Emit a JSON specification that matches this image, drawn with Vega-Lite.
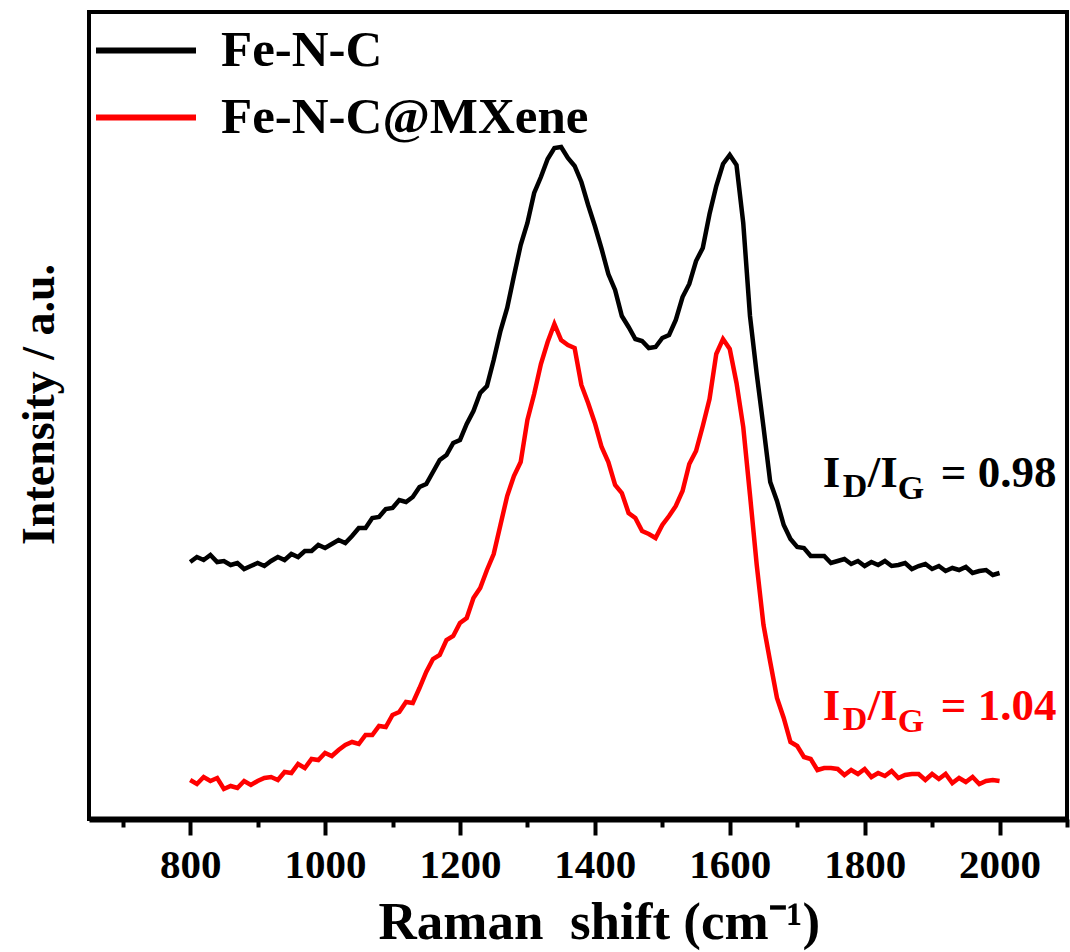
{
  "$schema": "https://vega.github.io/schema/vega-lite/v6.json",
  "width": 978,
  "height": 807,
  "autosize": {"type": "none"},
  "padding": {"left": 89, "top": 12, "right": 3, "bottom": 133},
  "background": "white",
  "config": {"font": "Liberation Serif", "view": {"stroke": "black", "strokeWidth": 4}},
  "datasets": {
    "spectra": [
      {"w":800,"Fe-N-C":257,"Fe-N-C@MXene":39},{"w":810,"Fe-N-C":262,"Fe-N-C@MXene":35},{"w":820,"Fe-N-C":259,"Fe-N-C@MXene":42},{"w":830,"Fe-N-C":264,"Fe-N-C@MXene":38},{"w":840,"Fe-N-C":257,"Fe-N-C@MXene":41},{"w":850,"Fe-N-C":258,"Fe-N-C@MXene":30},{"w":860,"Fe-N-C":254,"Fe-N-C@MXene":33},{"w":870,"Fe-N-C":256,"Fe-N-C@MXene":31},{"w":880,"Fe-N-C":250,"Fe-N-C@MXene":38},{"w":890,"Fe-N-C":253,"Fe-N-C@MXene":34},
      {"w":900,"Fe-N-C":256,"Fe-N-C@MXene":38},{"w":910,"Fe-N-C":253,"Fe-N-C@MXene":41},{"w":920,"Fe-N-C":258,"Fe-N-C@MXene":42},{"w":930,"Fe-N-C":262,"Fe-N-C@MXene":39},{"w":940,"Fe-N-C":259,"Fe-N-C@MXene":47},{"w":950,"Fe-N-C":265,"Fe-N-C@MXene":46},{"w":960,"Fe-N-C":262,"Fe-N-C@MXene":55},{"w":970,"Fe-N-C":268,"Fe-N-C@MXene":51},{"w":980,"Fe-N-C":268,"Fe-N-C@MXene":60},{"w":990,"Fe-N-C":274,"Fe-N-C@MXene":59},
      {"w":1000,"Fe-N-C":271,"Fe-N-C@MXene":66},{"w":1010,"Fe-N-C":275,"Fe-N-C@MXene":63},{"w":1020,"Fe-N-C":279,"Fe-N-C@MXene":69},{"w":1030,"Fe-N-C":276,"Fe-N-C@MXene":74},{"w":1040,"Fe-N-C":283,"Fe-N-C@MXene":77},{"w":1050,"Fe-N-C":291,"Fe-N-C@MXene":75},{"w":1060,"Fe-N-C":291,"Fe-N-C@MXene":84},{"w":1070,"Fe-N-C":301,"Fe-N-C@MXene":84},{"w":1080,"Fe-N-C":302,"Fe-N-C@MXene":93},{"w":1090,"Fe-N-C":310,"Fe-N-C@MXene":92},
      {"w":1100,"Fe-N-C":311,"Fe-N-C@MXene":104},{"w":1110,"Fe-N-C":319,"Fe-N-C@MXene":107},{"w":1120,"Fe-N-C":317,"Fe-N-C@MXene":117},{"w":1130,"Fe-N-C":322,"Fe-N-C@MXene":116},{"w":1140,"Fe-N-C":332,"Fe-N-C@MXene":131},{"w":1150,"Fe-N-C":335,"Fe-N-C@MXene":147},{"w":1160,"Fe-N-C":347,"Fe-N-C@MXene":160},{"w":1170,"Fe-N-C":359,"Fe-N-C@MXene":164},{"w":1180,"Fe-N-C":364,"Fe-N-C@MXene":179},{"w":1190,"Fe-N-C":376,"Fe-N-C@MXene":183},
      {"w":1200,"Fe-N-C":379,"Fe-N-C@MXene":196},{"w":1210,"Fe-N-C":395,"Fe-N-C@MXene":201},{"w":1220,"Fe-N-C":408,"Fe-N-C@MXene":221},{"w":1230,"Fe-N-C":426,"Fe-N-C@MXene":231},{"w":1240,"Fe-N-C":433,"Fe-N-C@MXene":249},{"w":1250,"Fe-N-C":459,"Fe-N-C@MXene":265},{"w":1260,"Fe-N-C":488,"Fe-N-C@MXene":294},{"w":1270,"Fe-N-C":511,"Fe-N-C@MXene":323},{"w":1280,"Fe-N-C":543,"Fe-N-C@MXene":343},{"w":1290,"Fe-N-C":574,"Fe-N-C@MXene":357},
      {"w":1300,"Fe-N-C":596,"Fe-N-C@MXene":399},{"w":1310,"Fe-N-C":626,"Fe-N-C@MXene":425},{"w":1320,"Fe-N-C":642,"Fe-N-C@MXene":455},{"w":1330,"Fe-N-C":660,"Fe-N-C@MXene":477},{"w":1340,"Fe-N-C":671,"Fe-N-C@MXene":495},{"w":1350,"Fe-N-C":672,"Fe-N-C@MXene":479},{"w":1360,"Fe-N-C":661,"Fe-N-C@MXene":474},{"w":1370,"Fe-N-C":653,"Fe-N-C@MXene":471},{"w":1380,"Fe-N-C":637,"Fe-N-C@MXene":434},{"w":1390,"Fe-N-C":614,"Fe-N-C@MXene":416},
      {"w":1400,"Fe-N-C":593,"Fe-N-C@MXene":396},{"w":1410,"Fe-N-C":570,"Fe-N-C@MXene":372},{"w":1420,"Fe-N-C":545,"Fe-N-C@MXene":357},{"w":1430,"Fe-N-C":529,"Fe-N-C@MXene":334},{"w":1440,"Fe-N-C":503,"Fe-N-C@MXene":326},{"w":1450,"Fe-N-C":492,"Fe-N-C@MXene":306},{"w":1460,"Fe-N-C":480,"Fe-N-C@MXene":301},{"w":1470,"Fe-N-C":478,"Fe-N-C@MXene":288},{"w":1480,"Fe-N-C":471,"Fe-N-C@MXene":285},{"w":1490,"Fe-N-C":472,"Fe-N-C@MXene":281},
      {"w":1500,"Fe-N-C":481,"Fe-N-C@MXene":294},{"w":1510,"Fe-N-C":484,"Fe-N-C@MXene":303},{"w":1520,"Fe-N-C":499,"Fe-N-C@MXene":313},{"w":1530,"Fe-N-C":522,"Fe-N-C@MXene":328},{"w":1540,"Fe-N-C":535,"Fe-N-C@MXene":355},{"w":1550,"Fe-N-C":558,"Fe-N-C@MXene":368},{"w":1560,"Fe-N-C":571,"Fe-N-C@MXene":393},{"w":1570,"Fe-N-C":605,"Fe-N-C@MXene":420},{"w":1580,"Fe-N-C":633,"Fe-N-C@MXene":465},{"w":1590,"Fe-N-C":655,"Fe-N-C@MXene":480},
      {"w":1600,"Fe-N-C":664,"Fe-N-C@MXene":470},{"w":1610,"Fe-N-C":654,"Fe-N-C@MXene":436},{"w":1620,"Fe-N-C":596,"Fe-N-C@MXene":392},{"w":1630,"Fe-N-C":503,"Fe-N-C@MXene":324},{"w":1640,"Fe-N-C":445,"Fe-N-C@MXene":254},{"w":1650,"Fe-N-C":392,"Fe-N-C@MXene":194},{"w":1660,"Fe-N-C":337,"Fe-N-C@MXene":157},{"w":1670,"Fe-N-C":318,"Fe-N-C@MXene":121},{"w":1680,"Fe-N-C":294,"Fe-N-C@MXene":101},{"w":1690,"Fe-N-C":280,"Fe-N-C@MXene":77},
      {"w":1700,"Fe-N-C":272,"Fe-N-C@MXene":73},{"w":1710,"Fe-N-C":271,"Fe-N-C@MXene":62},{"w":1720,"Fe-N-C":263,"Fe-N-C@MXene":60},{"w":1730,"Fe-N-C":263,"Fe-N-C@MXene":49},{"w":1740,"Fe-N-C":263,"Fe-N-C@MXene":51},{"w":1750,"Fe-N-C":256,"Fe-N-C@MXene":51},{"w":1760,"Fe-N-C":258,"Fe-N-C@MXene":50},{"w":1770,"Fe-N-C":260,"Fe-N-C@MXene":44},{"w":1780,"Fe-N-C":255,"Fe-N-C@MXene":49},{"w":1790,"Fe-N-C":258,"Fe-N-C@MXene":45},
      {"w":1800,"Fe-N-C":253,"Fe-N-C@MXene":50},{"w":1810,"Fe-N-C":257,"Fe-N-C@MXene":42},{"w":1820,"Fe-N-C":254,"Fe-N-C@MXene":46},{"w":1830,"Fe-N-C":258,"Fe-N-C@MXene":43},{"w":1840,"Fe-N-C":253,"Fe-N-C@MXene":48},{"w":1850,"Fe-N-C":254,"Fe-N-C@MXene":41},{"w":1860,"Fe-N-C":256,"Fe-N-C@MXene":44},{"w":1870,"Fe-N-C":250,"Fe-N-C@MXene":45},{"w":1880,"Fe-N-C":253,"Fe-N-C@MXene":45},{"w":1890,"Fe-N-C":255,"Fe-N-C@MXene":39},
      {"w":1900,"Fe-N-C":250,"Fe-N-C@MXene":45},{"w":1910,"Fe-N-C":253,"Fe-N-C@MXene":40},{"w":1920,"Fe-N-C":248,"Fe-N-C@MXene":45},{"w":1930,"Fe-N-C":251,"Fe-N-C@MXene":36},{"w":1940,"Fe-N-C":249,"Fe-N-C@MXene":41},{"w":1950,"Fe-N-C":252,"Fe-N-C@MXene":37},{"w":1960,"Fe-N-C":246,"Fe-N-C@MXene":42},{"w":1970,"Fe-N-C":248,"Fe-N-C@MXene":35},{"w":1980,"Fe-N-C":249,"Fe-N-C@MXene":38},{"w":1990,"Fe-N-C":244,"Fe-N-C@MXene":39},
      {"w":2000,"Fe-N-C":246,"Fe-N-C@MXene":38}
    ],
    "ratios": [
      {"sample": "Fe-N-C", "w": 1738, "intensity": 332, "eq": "= 0.98"},
      {"sample": "Fe-N-C@MXene", "w": 1738, "intensity": 99, "eq": "= 1.04"}
    ]
  },
  "layer": [
    {
      "data": {"name": "spectra"},
      "transform": [{"fold": ["Fe-N-C", "Fe-N-C@MXene"], "as": ["sample", "intensity"]}],
      "mark": {"type": "line", "strokeWidth": 4.5, "strokeJoin": "miter"},
      "encoding": {
        "x": {
          "field": "w", "type": "quantitative",
          "scale": {"domain": [650, 2100], "nice": false, "zero": false},
          "axis": {
            "values": [700, 800, 900, 1000, 1100, 1200, 1300, 1400, 1500, 1600, 1700, 1800, 1900, 2000, 2100],
            "format": "d",
            "labelExpr": "datum.value % 200 === 0 ? datum.label : ''",
            "grid": false,
            "domainColor": "black", "domainWidth": 6,
            "tickColor": "black", "tickWidth": 4,
            "tickSize": {"condition": {"test": "datum.value % 200 === 0", "value": 16}, "value": 8},
            "labelFont": "Liberation Serif", "labelFontWeight": "bold", "labelFontSize": 41, "labelColor": "black",
            "labelPadding": 10, "labelFlush": false, "labelOverlap": false,
            "title": "Raman\u00a0 shift (cm⁻¹)",
            "titleFont": "Liberation Serif", "titleFontWeight": "bold", "titleFontSize": 53, "titleColor": "black",
            "titleBaseline": "alphabetic", "titleAlign": "left", "titleX": 289, "titleY": 119
          }
        },
        "y": {
          "field": "intensity", "type": "quantitative",
          "scale": {"domain": [0, 807], "nice": false, "zero": false},
          "axis": {
            "ticks": false, "labels": false, "domain": false, "grid": false,
            "title": "Intensity / a.u.",
            "titleFont": "Liberation Serif", "titleFontWeight": "bold", "titleFontSize": 46, "titleColor": "black",
            "titleAngle": -90, "titleBaseline": "alphabetic", "titleAlign": "center", "titleX": -36, "titleY": 392
          }
        },
        "color": {
          "field": "sample", "type": "nominal",
          "scale": {"domain": ["Fe-N-C", "Fe-N-C@MXene"], "range": ["#000000", "#ff0000"]},
          "legend": {
            "title": null, "orient": "none", "legendX": 4, "legendY": 5,
            "symbolType": "stroke", "symbolSize": 10000, "symbolStrokeWidth": 6,
            "labelFont": "Liberation Serif", "labelFontWeight": "bold", "labelFontSize": 51, "labelColor": "black",
            "labelOffset": 22, "labelLimit": 700, "clipHeight": 67, "rowPadding": 0, "padding": 0
          }
        }
      }
    },
    {
      "data": {"name": "ratios"},
      "mark": {"type": "text", "text": "I", "align": "left", "baseline": "alphabetic", "fontSize": 45, "fontWeight": "bold", "font": "Liberation Serif"},
      "encoding": {
        "x": {"field": "w", "type": "quantitative"},
        "y": {"field": "intensity", "type": "quantitative"},
        "color": {"field": "sample", "type": "nominal"}
      }
    },
    {
      "data": {"name": "ratios"},
      "mark": {"type": "text", "text": "D", "align": "left", "baseline": "alphabetic", "fontSize": 34, "fontWeight": "bold", "font": "Liberation Serif", "dx": 20, "dy": 10},
      "encoding": {
        "x": {"field": "w", "type": "quantitative"},
        "y": {"field": "intensity", "type": "quantitative"},
        "color": {"field": "sample", "type": "nominal"}
      }
    },
    {
      "data": {"name": "ratios"},
      "mark": {"type": "text", "text": "/I", "align": "left", "baseline": "alphabetic", "fontSize": 45, "fontWeight": "bold", "font": "Liberation Serif", "dx": 45},
      "encoding": {
        "x": {"field": "w", "type": "quantitative"},
        "y": {"field": "intensity", "type": "quantitative"},
        "color": {"field": "sample", "type": "nominal"}
      }
    },
    {
      "data": {"name": "ratios"},
      "mark": {"type": "text", "text": "G", "align": "left", "baseline": "alphabetic", "fontSize": 34, "fontWeight": "bold", "font": "Liberation Serif", "dx": 75, "dy": 12},
      "encoding": {
        "x": {"field": "w", "type": "quantitative"},
        "y": {"field": "intensity", "type": "quantitative"},
        "color": {"field": "sample", "type": "nominal"}
      }
    },
    {
      "data": {"name": "ratios"},
      "mark": {"type": "text", "align": "left", "baseline": "alphabetic", "fontSize": 45, "fontWeight": "bold", "font": "Liberation Serif", "dx": 118},
      "encoding": {
        "x": {"field": "w", "type": "quantitative"},
        "y": {"field": "intensity", "type": "quantitative"},
        "text": {"field": "eq"},
        "color": {"field": "sample", "type": "nominal"}
      }
    }
  ]
}
